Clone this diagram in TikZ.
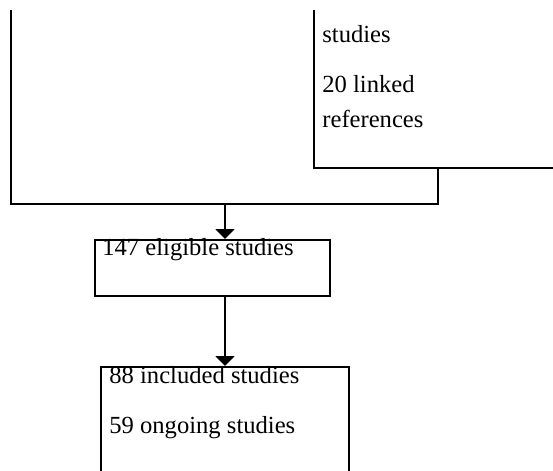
\documentclass[tikz,border=0pt]{standalone}
\usepackage{fontspec}
\setmainfont{Liberation Serif}
\usepackage{tikz}
\usetikzlibrary{arrows.meta, positioning, calc}

\begin{document}
\begin{tikzpicture}[
  x=0.5pt, y=-0.5pt,
  box/.style={rectangle, draw, fill=white, line width=1pt, inner sep=0pt},
  txt/.style={anchor=base west, inner sep=0pt, font=\fontsize{12.3}{17.5}\selectfont},
  line/.style={line width=1pt},
  arr/.style={-{Triangle[length=5pt, width=9.5pt]}, line width=1pt},
]
\useasboundingbox (0,0) rectangle (553,471);
\clip (0,10) rectangle (553,471);

% boxes
\node[box, minimum width=124pt, minimum height=115pt] (excl) at (438,53) {};
\node[box, minimum width=117.5pt, minimum height=28pt] (elig) at (212.5,268) {};
\node[box, minimum width=124pt, minimum height=65pt] (incl) at (225,432) {};

% texts
\node[txt] (exclA) at (322,42) {studies};
\node[txt] (exclB) at (322,92) {20 linked};
\node[txt] (exclC) at (322,127) {references};
\node[txt] (eligA) at (102,256) {147 eligible studies};
\node[txt] (inclA) at (109,383) {88 included studies};
\node[txt] (inclB) at (109,433) {59 ongoing studies};

% connectors
\coordinate (feed) at (11,0);
\coordinate (merge) at (225,204);
\draw[line] (feed) |- (merge) -| (excl.south);
\draw[arr] (merge) -- (merge |- elig.north);
\draw[arr] (elig.south -| incl.north) -- (incl.north);

\end{tikzpicture}
\end{document}
